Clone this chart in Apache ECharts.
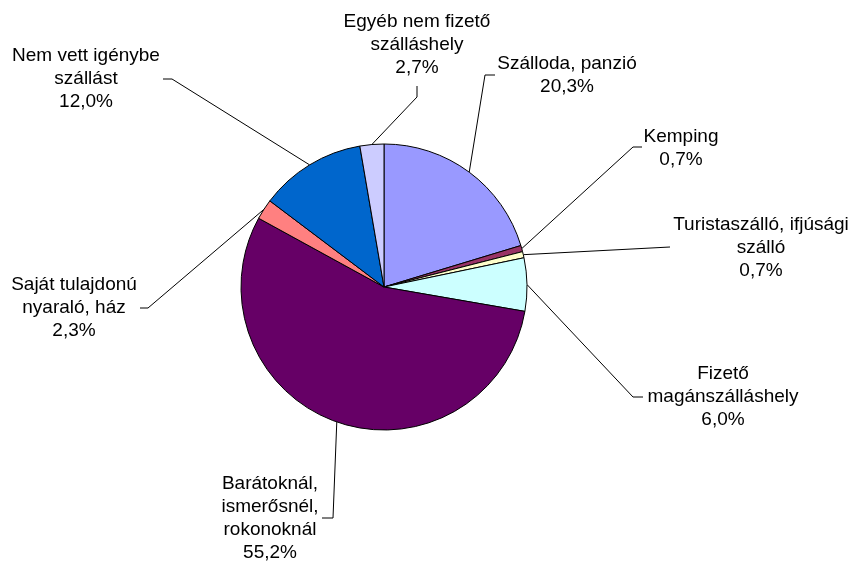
<!DOCTYPE html>
<html>
<head>
<meta charset="utf-8">
<script src="https://cdn.jsdelivr.net/npm/echarts@6/dist/echarts.min.js"></script>
<style>
html,body{margin:0;padding:0;background:#fff;}
#c{width:853px;height:563px;}
</style>
</head>
<body>
<div id="c"></div>
<script>
const categories = [
  'Szálloda, panzió',
  'Kemping',
  'Turistaszálló, ifjúsági\nszálló',
  'Fizető\nmagánszálláshely',
  'Barátoknál,\nismerősnél,\nrokonoknál',
  'Saját tulajdonú\nnyaraló, ház',
  'Nem vett igénybe\nszállást',
  'Egyéb nem fizető\nszálláshely'
];
const values = [20.3, 0.7, 0.7, 6.0, 55.2, 2.3, 12.0, 2.7];
const colors = ['#9999FF', '#993366', '#FFFFCC', '#CCFFFF', '#660066', '#FF8080', '#0066CC', '#CCCCFF'];

// label placement (text block centres) and leader-line elbows/ends
const labelPos = [[567,75],[681,148],[761,248],[723,397],[270,518],[74,308],[86,79],[417,45]];
const labelElbow = [[485,75],[633,147],[670,247],[633,397],[333,518],[148,308],[172,79],[417,97]];
const labelEnd = [[495,75],[642,147],[670,247],[643,397],[322,518],[140,308],[163,79],[417,86]];

const chart = echarts.init(document.getElementById('c'));
chart.setOption({
  animation: false,
  backgroundColor: '#fff',
  series: [{
    type: 'pie',
    center: [384, 287],
    radius: 143,
    startAngle: 90,
    clockwise: true,
    avoidLabelOverlap: false,
    data: categories.map((n, i) => ({name: n, value: values[i], itemStyle: {color: colors[i]}})),
    itemStyle: {borderColor: '#000', borderWidth: 1},
    label: {
      show: true,
      position: 'outside',
      formatter: p => p.name + '\n' + p.value.toFixed(1).replace('.', ',') + '%',
      fontFamily: 'Liberation Sans, Arial, sans-serif',
      fontSize: 19,
      lineHeight: 23,
      color: '#000',
      align: 'center'
    },
    labelLine: {show: true, length: 10, length2: 10, lineStyle: {color: '#000', width: 1}},
    emphasis: {disabled: true},
    labelLayout: function (params) {
      const i = params.dataIndex;
      const p0 = params.labelLinePoints ? params.labelLinePoints[0] : labelElbow[i];
      return {
        x: labelPos[i][0],
        y: labelPos[i][1],
        align: 'center',
        verticalAlign: 'middle',
        labelLinePoints: [p0, labelElbow[i], labelEnd[i]]
      };
    }
  }]
});
</script>
</body>
</html>
